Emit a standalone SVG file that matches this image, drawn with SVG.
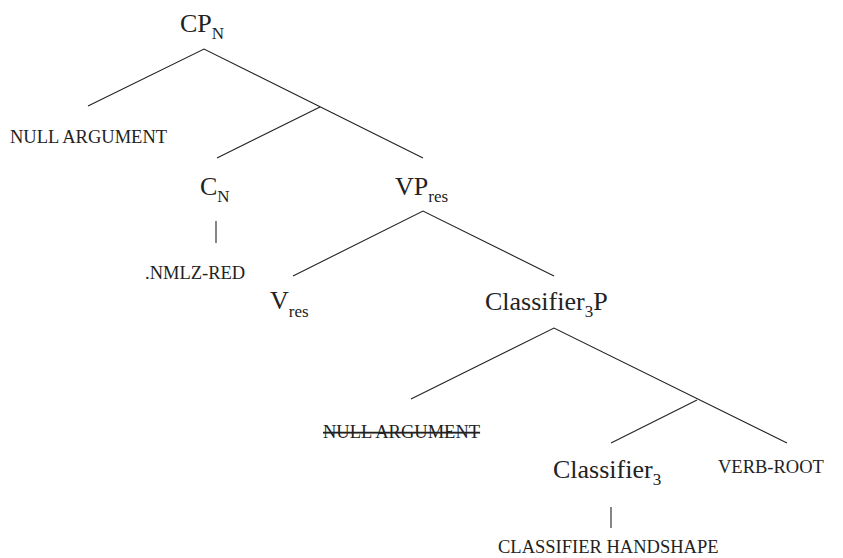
<svg xmlns="http://www.w3.org/2000/svg" width="843" height="558" viewBox="0 0 843 558">
<style>
.lbl{font-family:"Liberation Serif","Times New Roman",serif;font-size:26px;fill:#222}
.sub{font-size:17px}
.sc{font-family:"Liberation Serif","Times New Roman",serif;font-size:18.5px;fill:#222}
.edge{stroke:#222;stroke-width:1.1;fill:none}
</style>
<rect width="843" height="558" fill="#fff"/>
<g id="connectors">
<polyline class="edge" points="88,106 204,49 423,158"/>
<line class="edge" x1="320" y1="107" x2="217" y2="158"/>
<line class="edge" x1="216" y1="221" x2="216" y2="243"/>
<polyline class="edge" points="293,276 423,211 554,276"/>
<polyline class="edge" points="411,399 554,328 787,443"/>
<line class="edge" x1="697" y1="400" x2="611" y2="443"/>
<line class="edge" x1="611" y1="507" x2="611" y2="528"/>
</g>
<g id="cpn"><text class="lbl" x="180" y="32">CP<tspan class="sub" dy="7">N</tspan></text></g>
<g id="null1"><text class="sc" x="10" y="143">NULL ARGUMENT</text></g>
<g id="cn"><text class="lbl" x="200" y="195">C<tspan class="sub" dy="7">N</tspan></text></g>
<g id="vpres"><text class="lbl" x="395" y="195">VP<tspan class="sub" dy="7">res</tspan></text></g>
<g id="nmlz"><text class="sc" x="145" y="279">.NMLZ-RED</text></g>
<g id="vres"><text class="lbl" x="270" y="309">V<tspan class="sub" dy="8">res</tspan></text></g>
<g id="clp"><text class="lbl" x="485" y="310">Classifier<tspan class="sub" dy="7">3</tspan><tspan dy="-7">P</tspan></text></g>
<g id="null2"><text class="sc" x="323" y="438" text-decoration="line-through">NULL ARGUMENT</text></g>
<g id="cl3"><text class="lbl" x="553" y="478">Classifier<tspan class="sub" dy="7">3</tspan></text></g>
<g id="verbroot"><text class="sc" x="718" y="473">VERB-ROOT</text></g>
<g id="handshape"><text class="sc" x="498" y="553">CLASSIFIER HANDSHAPE</text></g>
</svg>
